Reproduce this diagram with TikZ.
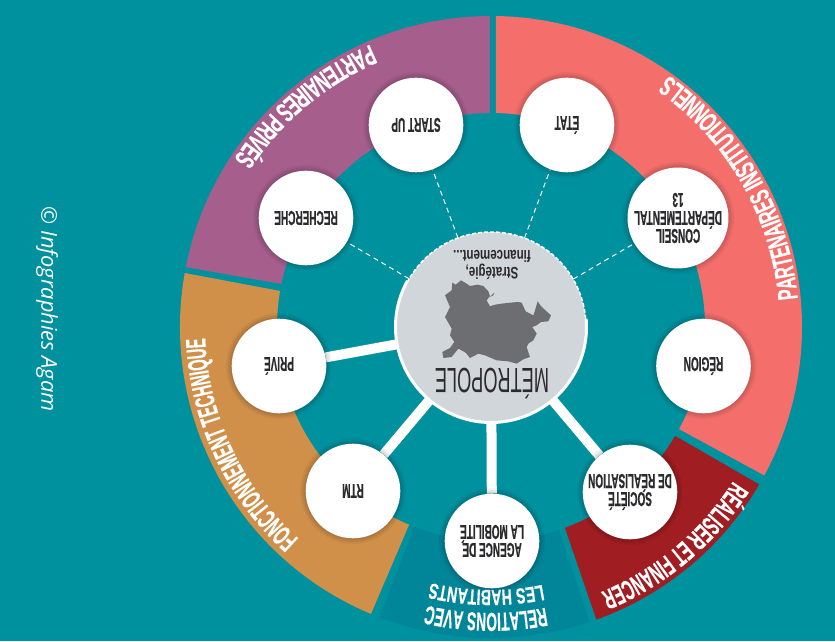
\documentclass[tikz,border=0pt]{standalone}
\usepackage{fontspec}
\usetikzlibrary{decorations.text}
\newfontfamily\condA[FakeStretch=0.58,FakeBold=0.4]{Liberation Sans}
\newfontfamily\condB[FakeStretch=0.52,FakeBold=0.4]{Liberation Sans}
\newfontfamily\condC[FakeStretch=0.5,FakeBold=0.5]{Liberation Sans}
\newfontfamily\condD[FakeStretch=0.7]{Liberation Sans}
\newfontfamily\condE[FakeStretch=0.52]{Liberation Sans}
\newfontfamily\condF[FakeStretch=0.52,FakeBold=0.4]{Liberation Sans}
\newfontfamily\condG[FakeStretch=0.64,FakeBold=0.4]{Liberation Sans}
\newfontfamily\agam{Open Sans}
\definecolor{bgteal}{HTML}{00919F}
\definecolor{darkteal}{HTML}{008599}
\definecolor{salmon}{HTML}{F46F6C}
\definecolor{deepred}{HTML}{A01D21}
\definecolor{plum}{HTML}{A65E8C}
\definecolor{ochre}{HTML}{D0904A}
\definecolor{paleg}{HTML}{D1D6DB}
\definecolor{mapg}{HTML}{6D6E71}
\definecolor{ink}{HTML}{2B2A2C}
\pgfdeclarelayer{under}
\pgfsetlayers{under,main}
\tikzset{
  x=1pt,y=1pt,
  actor/.style={circle,fill=white,minimum size=94.6pt,inner sep=0pt,rotate=180,align=center,text=ink,
    font=\condC\bfseries\fontsize{20}{18}\selectfont,
    preaction={draw=black,draw opacity=.05,line width=11pt},
    preaction={draw=black,draw opacity=.06,line width=7pt},
    preaction={draw=black,draw opacity=.07,line width=3pt}},
  hub/.style={circle,fill=paleg,minimum size=190pt,inner sep=0pt},
  solidlink/.style={draw=white,line width=10pt},
  dashlink/.style={draw=white,line width=1pt,dash pattern=on 5pt off 4pt},
  arctext/.style={decorate,decoration={text along path,text align=center,text color=white,text={#1}}},
}
\newcommand{\sector}[5]{\fill[#1] (#2:311) arc[start angle=#2,end angle=#3,radius=311] -- (#5:214) arc[start angle=#5,end angle=#4,radius=214] -- cycle;}
\newcommand{\fa}{\condA\bfseries\fontsize{28}{28}\selectfont}
\newcommand{\fb}{\condB\bfseries\fontsize{28}{28}\selectfont}
\begin{document}
\begin{tikzpicture}
\useasboundingbox (0,0) rectangle (835,641);
\begin{pgfonlayer}{under}
\fill[bgteal] (0,0) rectangle (835,641);
\begin{scope}[shift={(491,314)}]
\sector{salmon}{89.1}{-28.5}{88.7}{-28.5}
\sector{deepred}{-30.4}{-70.2}{-30.6}{-69.8}
\sector{darkteal}{-71.5}{-111}{-71.5}{-111}
\sector{ochre}{247.3}{170}{247.5}{170.3}
\sector{plum}{168.9}{90.2}{168.4}{90.3}
\end{scope}
\end{pgfonlayer}

% banner texts
\begin{scope}[shift={(491,314)}]
\path[arctext={|\fa|PARTENAIRES INSTITUTIONNELS}] (-8:308) arc[start angle=-8,end angle=68,radius=308];
\path[arctext={|\fa|PARTENAIRES PRIVÉS}] (100:307) arc[start angle=100,end angle=160,radius=307];
\path[arctext={|\fb|FONCTIONNEMENT TECHNIQUE}] (240:286) arc[start angle=240,end angle=170,radius=286];
\path[arctext={|\fb|RÉALISER ET FINANCER}] (-15:287) arc[start angle=-15,end angle=-85,radius=287];
\path[arctext={|\condF\bfseries\fontsize{26}{26}\selectfont|RELATIONS AVEC}] (298:286) arc[start angle=298,end angle=240,radius=286];
\path[arctext={|\condG\bfseries\fontsize{22}{22}\selectfont|LES HABITANTS}] (298:263) arc[start angle=298,end angle=240,radius=263];
\end{scope}

% hub
\node[hub] (metro) at (491,314) {};
\draw[white,line width=3pt] (metro.center) ++(151:95.5) arc[start angle=151,end angle=365,radius=95.5];
\draw[white,line width=1.5pt,dash pattern=on 4pt off 2pt] (metro.center) ++(5:95) arc[start angle=5,end angle=151,radius=95];
\begin{scope}[shift={(435,369)},x=0.3333pt,y=-0.3333pt]
\fill[mapg] (52,32) -- (62,38) -- (78,25) -- (95,35) -- (105,42) -- (128,38) -- (145,42) -- (160,58) -- (165,72) -- (155,85) -- (165,103) -- (180,98) -- (200,95) -- (225,92) -- (250,90) -- (260,92) -- (272,118) -- (295,130) -- (300,115) -- (308,88) -- (316,100) -- (328,112) -- (348,130) -- (340,148) -- (318,150) -- (305,160) -- (292,165) -- (305,185) -- (295,205) -- (280,215) -- (275,225) -- (285,255) -- (265,262) -- (245,275) -- (220,268) -- (185,265) -- (150,250) -- (130,245) -- (105,258) -- (92,242) -- (70,230) -- (50,255) -- (25,258) -- (22,240) -- (45,228) -- (58,210) -- (45,190) -- (50,170) -- (30,135) -- (45,105) -- (30,70) -- (50,55) -- cycle;
\fill[mapg] (165,75) -- (178,62) -- (175,70) -- cycle;
\end{scope}
\node[text=ink,rotate=180,font=\condE\fontsize{35}{35}\selectfont] (mtitle) at (492,257) {MÉTROPOLE};
\node[text=ink,rotate=180,align=center,font=\condD\bfseries\fontsize{16.5}{15}\selectfont] (mnote) at (492,376) {Stratégie,\\financement...};

% actors
\node[actor] (startup) at (416,516) {START UP};
\node[actor] (recherche) at (306,423) {RECHERCHE};
\node[actor] (etat) at (567,516) {ÉTAT};
\node[actor] (conseil) at (678,423) {CONSEIL\\DÉPARTEMENTAL\\13};
\node[actor] (region) at (703.5,275) {RÉGION};
\node[actor] (societe) at (630,149) {SOCIÉTÉ\\DE RÉALISATION};
\node[actor] (agence) at (492,100) {AGENCE DE\\LA MOBILITÉ};
\node[actor] (rtm) at (353,150) {RTM};
\node[actor] (prive) at (279,275) {PRIVÉ};

\begin{pgfonlayer}{under}
\draw[solidlink] (metro) -- (prive);
\draw[solidlink] (metro) -- (rtm);
\draw[solidlink] (metro) -- (agence);
\draw[solidlink] (metro) -- (societe);
\draw[dashlink] (metro) -- (startup);
\draw[dashlink] (metro) -- (recherche);
\draw[dashlink] (metro) -- (etat);
\draw[dashlink] (metro) -- (conseil);
\end{pgfonlayer}

\node[text=white,rotate=-90,font=\agam\itshape\fontsize{21.8}{21.8}\selectfont] (credit) at (47,332) {© Infographies Agam};
\end{tikzpicture}
\end{document}
